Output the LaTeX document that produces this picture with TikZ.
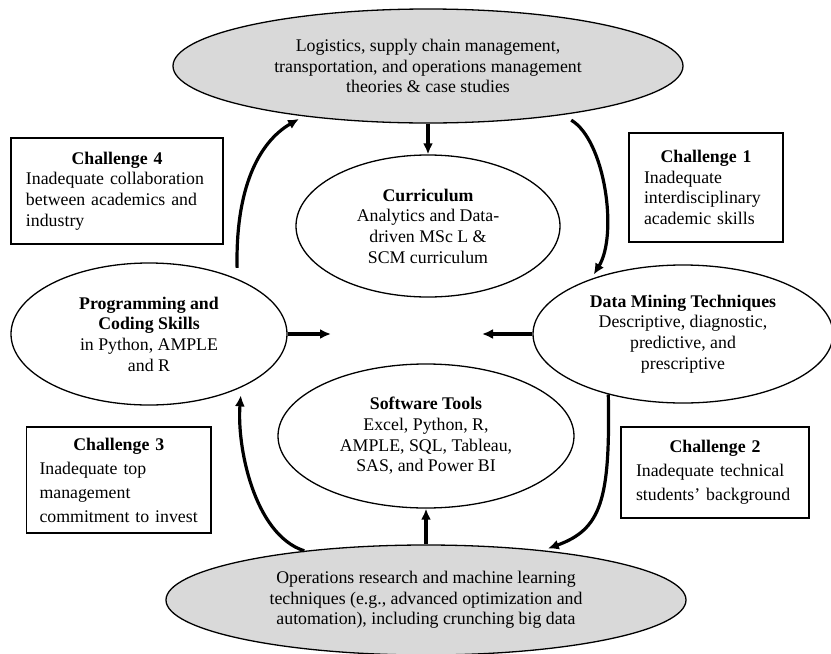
\documentclass[tikz,border=0pt]{standalone}
\usepackage{fontspec}
\setmainfont{Liberation Serif}
\usetikzlibrary{shapes.geometric,arrows.meta}
\definecolor{hubgrey}{HTML}{D9D9D9}
\begin{document}
\begin{tikzpicture}[x=1pt,y=-1pt,
  every node/.style={font=\fontsize{17.8}{20.7}\selectfont},
  hub/.style={ellipse,draw,line width=1.3pt,fill=hubgrey,inner sep=0pt,align=center},
  topic/.style={ellipse,draw,line width=1.3pt,fill=white,inner sep=0pt,align=center},
  challenge/.style={rectangle,draw,line width=1.3pt,inner xsep=15pt,inner ysep=0pt},
  wide/.style={font=\fontsize{17.8}{24}\selectfont},
  flow/.style={line width=3.2pt,-{Latex[length=11pt,width=10pt]}},
]
\useasboundingbox (0,0) rectangle (831,654);

% outer hubs
\node[hub, minimum width=510pt, minimum height=114pt] (top) at (428,66)
  {Logistics, supply chain management,\\
   transportation, and operations management\\
   theories \& case studies};
\node[hub, minimum width=520pt, minimum height=110pt] (bot) at (426,600)
  {Operations research and machine learning\\
   techniques (e.g., advanced optimization and\\
   automation), including crunching big data};

% inner topics
\node[topic, minimum width=264pt, minimum height=142pt] (cur) at (428,226)
  {\textbf{Curriculum}\\ Analytics and Data-\\ driven MSc L \&\\ SCM curriculum};
\node[topic, minimum width=276pt, minimum height=142pt] (prog) at (149,334)
  {\textbf{Programming and}\\ \textbf{Coding Skills}\\ in Python, AMPLE\\ and R};
\node[topic, minimum width=300pt, minimum height=138pt] (dm) at (683,334)
  {\textbf{Data Mining Techniques}\\ Descriptive, diagnostic,\\ predictive, and\\ prescriptive};
\node[topic, minimum width=296pt, minimum height=144pt] (sw) at (426,436)
  {\textbf{Software Tools}\\ Excel, Python, R,\\ AMPLE, SQL, Tableau,\\ SAS, and Power BI};

% challenge boxes
\node[challenge, text width=182pt, minimum width=212pt, minimum height=106pt] (c4) at (117,191)
  {{\centering\textbf{Challenge 4}\par}\raggedright
   Inadequate collaboration\\ between academics and\\ industry};
\node[challenge, text width=124pt, minimum width=154pt, minimum height=109pt] (c1) at (706,187.5)
  {{\centering\textbf{Challenge 1}\par}\raggedright
   Inadequate\\ interdisciplinary\\ academic skills};
\node[challenge, wide, inner xsep=13pt, text width=158.5pt, minimum width=184.5pt, minimum height=106pt] (c3) at (118.75,480)
  {{\centering\textbf{Challenge 3}\par}\raggedright\hyphenpenalty=10000
   Inadequate top\\ management\\ commitment to invest};
\node[challenge, wide, text width=158pt, minimum width=188pt, minimum height=91pt] (c2) at (715,472.5)
  {{\centering\textbf{Challenge 2}\par}\raggedright
   Inadequate technical\\ students’ background};

% free ends of the side arrows
\coordinate (pin) at (331,334);
\coordinate (din) at (482,334);

% straight flows
\draw[flow] (top) -- (cur);
\draw[flow] (bot) -- (sw);
\draw[flow] (prog) -- (pin);
\draw[flow] (dm) -- (din);

% curved cycle
\draw[flow, shorten <=11pt, shorten >=5pt] (prog.32) .. controls +(-2,-90) and +(-45,26) .. (top.202);
\draw[flow, shorten <=10pt, shorten >=5pt] (top.340) .. controls +(42.5,25.4) and +(27,-44) .. (dm.149);
\draw[flow, shorten >=5pt] (dm.219) .. controls +(2,106) and +(58,-21) .. (bot.23);
\draw[flow, shorten >=8pt] (bot.158) .. controls +(-50.5,-16.3) and +(-4.8,58) .. (prog.330);
\end{tikzpicture}
\end{document}
